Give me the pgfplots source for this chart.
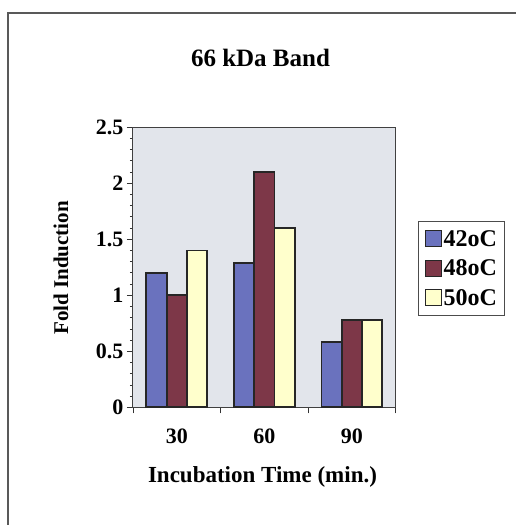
\documentclass[border=0pt]{standalone}
\usepackage{pgfplots}
\pgfplotsset{compat=1.18}
\usepackage{fontspec}
\setmainfont{Liberation Serif}
\definecolor{cblue}{RGB}{106,114,190}
\definecolor{cmaroon}{RGB}{125,55,72}
\definecolor{cyellow}{RGB}{255,255,204}
\definecolor{cbg}{RGB}{226,229,235}
\begin{document}
\begin{tikzpicture}[x=1pt,y=1pt]
\useasboundingbox (-133,-117.7) rectangle (383,407.3);
\fill[white] (-133,-117.7) rectangle (383,407.3);
\draw[line width=1.5pt, black!65] (-125,-130) -- (-125,394.3) -- (400,394.3);
\begin{axis}[
  scale only axis, width=262.7pt, height=280pt,
  at={(0,0)}, anchor=south west,
  ybar=0pt, bar width=20.3pt,
  xmin=0.5, xmax=3.5, ymin=0, ymax=2.5,
  xtick={0.5,1.5,2.5,3.5}, xticklabels={30,60,90},
  x tick label as interval=true,
  ytick={0,0.5,1,1.5,2,2.5},
  minor y tick num=4,
  xtick pos=bottom, ytick pos=left,
  tick align=outside, major tick length=6pt, minor tick length=3pt,
  axis line style={black!75, line width=1pt},
  axis background/.style={fill=cbg},
  every tick/.style={black!80, line width=0.8pt},
  tick label style={font=\fontsize{22}{24}\selectfont\bfseries},
  xticklabel style={yshift=-12pt},
  /pgf/number format/assume math mode=true,
  legend style={at={(1.085,0.496)}, anchor=west, draw=black!70, line width=1pt,
    font=\fontsize{24}{27}\selectfont\bfseries, inner xsep=6pt, inner ysep=7pt, row sep=8pt},
  legend image code/.code={\draw[#1, line width=1pt] (0pt,-8pt) rectangle (16pt,8pt);},
  legend cell align=left,
]
\addplot[fill=cblue, draw=black!85, line width=1.8pt] coordinates {(1,1.20) (2,1.29) (3,0.586)};
\addplot[fill=cmaroon, draw=black!85, line width=1.8pt] coordinates {(1,1.00) (2,2.10) (3,0.78)};
\addplot[fill=cyellow, draw=black!85, line width=1.8pt] coordinates {(1,1.40) (2,1.60) (3,0.78)};
\legend{42oC,48oC,50oC}
\end{axis}
\node[anchor=base, font=\fontsize{25}{28}\selectfont\bfseries] at (127.5,340.3) {66 kDa Band};
\node[anchor=base, font=\fontsize{23}{26}\selectfont\bfseries] at (129.5,-74.7) {Incubation Time (min.)};
\node[rotate=90, font=\fontsize{21}{26}\selectfont\bfseries] at (-72,139.3) {Fold Induction};
\end{tikzpicture}
\end{document}
